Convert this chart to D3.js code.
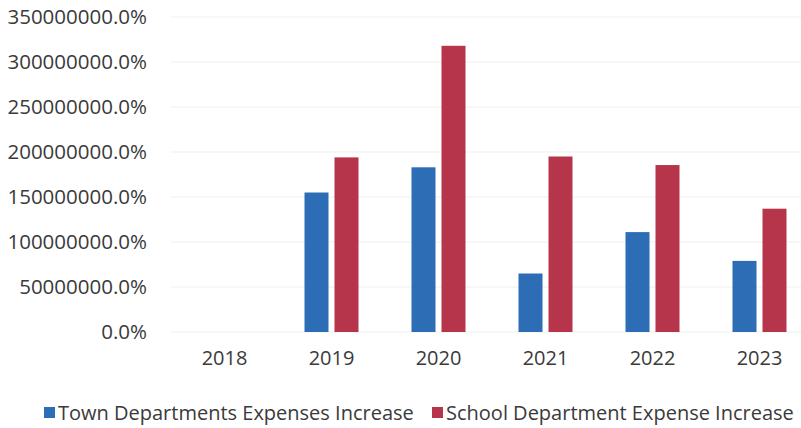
<!DOCTYPE html>
<html>
<head>
<meta charset="utf-8">
<script src="https://cdn.jsdelivr.net/npm/d3@7"></script>
<style>
  html, body { margin: 0; padding: 0; background: #ffffff; }
  svg { display: block; }
  text { font-family: "Open Sans", "Liberation Sans", sans-serif; fill: #3a3a3a; }
</style>
</head>
<body>
<svg id="chart" width="801" height="428"></svg>
<script>
// Year-over-year expense increases, in percent
const years = ["2018", "2019", "2020", "2021", "2022", "2023"];
const townIncrease = [0, 155000000, 183000000, 65000000, 111000000, 79000000];
const schoolIncrease = [0, 194000000, 318000000, 195000000, 185500000, 137000000];
const seriesNames = ["Town Departments Expenses Increase", "School Department Expense Increase"];
const seriesColors = ["#2d6db5", "#b6354b"];
const yTicks = [0, 50000000, 100000000, 150000000, 200000000, 250000000, 300000000, 350000000];

const svg = d3.select("#chart");
const plot = { left: 171, right: 813, top: 17, bottom: 332 };

const x0 = d3.scaleBand().domain(years).range([plot.left, plot.right]);
const x1 = d3.scaleBand().domain([0, 1])
  .range([x0.bandwidth() / 2 - 27, x0.bandwidth() / 2 + 27])
  .paddingInner(0.2);
const y = d3.scaleLinear().domain([0, 350000000]).range([plot.bottom, plot.top]);

const fmt = v => d3.format(".1f")(v) + "%";

// horizontal gridlines
svg.append("g")
  .selectAll("line")
  .data(yTicks)
  .join("line")
  .attr("x1", plot.left)
  .attr("x2", 801)
  .attr("y1", d => y(d))
  .attr("y2", d => y(d))
  .attr("stroke", "#efefef")
  .attr("stroke-width", 1);

// y axis labels
const yAxis = svg.append("g")
  .attr("transform", `translate(${plot.left - 24},0)`)
  .call(d3.axisLeft(y).tickValues(yTicks).tickFormat(fmt).tickSize(0).tickPadding(0));
yAxis.select(".domain").remove();
yAxis.selectAll("text")
  .attr("font-size", 20.5)
  .attr("fill", "#3a3a3a")
  .style("font-family", "\"Open Sans\", sans-serif");

// x axis labels
const xAxis = svg.append("g")
  .attr("transform", `translate(0,${plot.bottom})`)
  .call(d3.axisBottom(x0).tickSize(0).tickPadding(19));
xAxis.select(".domain").remove();
xAxis.selectAll("text")
  .attr("font-size", 20)
  .attr("fill", "#3a3a3a")
  .style("font-family", "\"Open Sans\", sans-serif");

// grouped bars
const rows = years.map((yr, i) => ({ year: yr, values: [townIncrease[i], schoolIncrease[i]] }));
svg.append("g")
  .selectAll("g")
  .data(rows)
  .join("g")
  .attr("transform", d => `translate(${x0(d.year)},0)`)
  .selectAll("rect")
  .data(d => d.values.map((v, k) => ({ k, v })))
  .join("rect")
  .attr("x", d => x1(d.k))
  .attr("width", x1.bandwidth())
  .attr("y", d => y(d.v))
  .attr("height", d => y(0) - y(d.v))
  .attr("fill", d => seriesColors[d.k]);

// legend
const legend = svg.append("g").attr("transform", "translate(0,413)");
const legendStarts = [44, 432];
seriesNames.forEach((name, k) => {
  const g = legend.append("g").attr("transform", `translate(${legendStarts[k]},0)`);
  g.append("rect").attr("x", 0).attr("y", -6).attr("width", 11).attr("height", 11).attr("fill", seriesColors[k]);
  g.append("text").attr("x", 14).attr("y", 0).attr("dy", "0.35em")
    .attr("font-size", 20).text(name);
});
</script>
</body>
</html>
